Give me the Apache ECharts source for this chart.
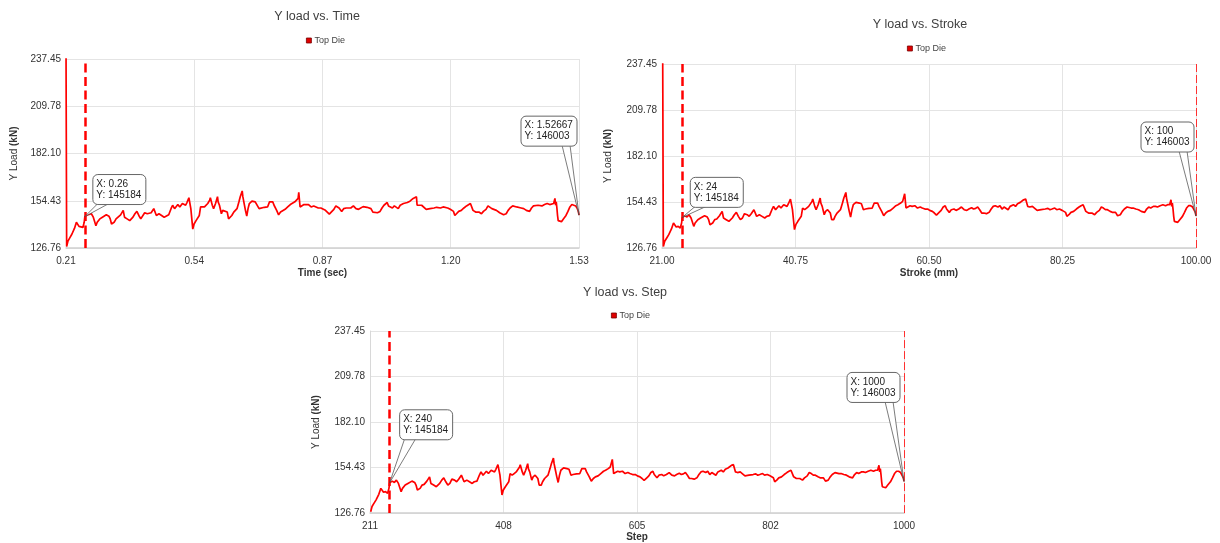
<!DOCTYPE html>
<html><head><meta charset="utf-8">
<script src="https://cdn.jsdelivr.net/npm/echarts@6/dist/echarts.min.js"></script>
<style>html,body{margin:0;padding:0;background:#fff}#c{width:1220px;height:543px}</style>
</head><body><div id="c"></div>
<script>
// ---- data ----
const steps = [
 211,212,214,217,220,224,227,229,231,234,
 237,239,240,244,247,250,253,257,259,263,
 267,269,273,277,279,281,285,288,291,295,
 299,301,305,309,311,314,317,320,323,326,
 329,332,336,339,342,346,348,350,354,358,
 362,365,369,373,375,378,380,383,386,390,
 392,395,397,400,402,403,405,406,408,411,
 413,416,418,421,424,427,429,432,433,436,
 438,441,444,445,447,450,452,455,459,461,
 464,466,469,474,477,479,482,483,485,487,
 489,491,493,497,502,505,508,511,516,521,
 524,526,529,531,535,538,541,544,548,552,
 556,559,563,566,568,569,571,573,577,580,
 584,588,592,595,599,603,606,610,613,616,
 620,623,626,629,631,635,638,642,645,649,
 653,657,661,664,668,671,674,677,680,683,
 686,690,694,697,700,703,705,707,710,713,
 716,718,722,725,727,730,733,736,740,741,
 745,748,750,751,754,758,761,765,767,771,
 773,777,781,784,787,791,794,798,802,804,
 807,809,812,815,819,823,827,830,833,835,
 837,841,843,846,850,853,857,860,863,866,
 869,873,876,878,881,884,888,891,894,898,
 900,904,907,911,915,919,921,924,927,930,
 933,937,940,943,947,951,955,958,961,963,
 964,965,966,967,968,970,973,976,980,983,
 986,989,992,995,997,999,1000
];
const loadKN = [
 245,127.6,130.8,132.8,134.8,138.2,141.8,140.8,139.4,139.8,
 138.8,141.8,145.184,146.2,145.4,146.8,144.8,139.8,141.8,143.8,
 144.8,145.8,146.2,145.4,143.8,140.8,141.8,143.8,144.2,146.2,
 148.8,144.8,143.8,142.8,143.8,144.8,146.8,148.2,145.8,143.8,
 144.8,147.4,146.8,145.8,147.4,149.8,150.2,145.8,146.8,145.8,
 144.8,145.8,146.2,150.2,151.8,149.8,150.8,152.2,150.8,152.8,
 153.8,151.8,153.4,156.2,156.8,149.8,141.8,137.8,140.8,142.8,
 143.8,145.8,150.8,149.8,150.8,151.8,152.8,154.8,156.2,151.8,
 149.8,152.8,156.8,153.8,151.8,146.8,148.8,149.8,147.8,143.8,
 143.8,145.8,147.8,149.8,153.8,156.8,160.2,156.8,152.8,148.8,
 145.4,149.8,152.8,154.2,153.8,153.4,149.8,150.2,150.6,150.8,
 153.8,154.8,153.8,151.8,148.8,146.2,147.8,148.8,149.4,150.8,
 152.2,152.8,153.8,154.8,155.8,159.4,150.8,151.8,152.2,151.8,
 152.2,150.8,151.4,150.8,150.2,150.2,149.4,148.8,147.8,146.6,
 148.2,149.4,151.4,152.2,150.2,148.2,149.8,150.2,149.4,150.2,
 151.4,149.8,149.4,150.2,151.0,150.2,150.6,151.4,149.8,147.8,
 147.8,147.4,148.2,150.2,151.8,152.2,153.4,151.4,152.2,150.2,
 151.4,151.8,149.8,151.8,152.2,152.8,151.8,153.4,154.2,154.8,
 155.8,156.2,156.8,151.8,151.4,151.8,150.8,149.4,150.2,149.8,
 150.8,150.2,150.6,149.8,150.2,150.8,149.8,150.2,149.4,150.2,
 148.2,145.8,146.8,148.2,148.8,150.2,151.4,152.2,152.8,153.4,
 148.8,147.8,146.8,147.8,146.8,148.2,149.4,151.4,150.8,149.8,
 149.8,148.8,148.2,147.4,148.2,146.2,146.8,148.8,150.2,151.4,
 151.8,150.8,150.8,150.2,149.8,148.8,147.8,148.2,150.2,151.4,
 150.8,151.8,151.8,151.4,152.2,152.8,152.2,152.8,152.8,155.8,
 151.8,153.8,150.2,145.8,142.8,141.8,142.2,143.8,145.8,148.2,
 150.8,152.2,152.2,151.4,150.2,148.2,146.003
];
const titles = ['Y load vs. Time', 'Y load vs. Stroke', 'Y load vs. Step'];
const xAxisNames = ['Time (sec)', 'Stroke (mm)', 'Step'];
const seriesName = 'Top Die';
const yTickLabels = ['126.76','154.43','182.10','209.78','237.45'];
const timeTickLabels = ['0.21','0.54','0.87','1.20','1.53'];
const strokeTickLabels = ['21.00','40.75','60.50','80.25','100.00'];
const stepTickLabels = ['211','408','605','802','1000'];
const cursorStep = [240, 1000];
const cursorTime = [0.26, 1.52667];
const cursorStroke = [24, 100];
const cursorLoadN = [145184, 146003];
// unit conversion derived from cursor readouts: time = (step-84)/600 s, stroke = step/10 mm
const toTime = s => (s - 84) / 600;
const toStroke = s => s / 10;

// ---- chart ----
const FONT = '"Liberation Sans", Arial, sans-serif';
const yMin = 126.76, yMax = 237.45;
const xRanges = [[toTime(211), toTime(1000)], [21, 100], [211, 1000]];
const xLabelSets = [timeTickLabels, strokeTickLabels, stepTickLabels];
const grids = [
  {left: 66, top: 59, width: 513, height: 189},
  {left: 662, top: 64, width: 534, height: 184},
  {left: 370, top: 331, width: 534, height: 184}
];
const ticks = (a, b) => [0,1,2,3,4].map(k => a + k * (b - a) / 4);
const labelFor = (a, b, labels) => v => labels[Math.round((v - a) / ((b - a) / 4))] || '';

const chart = echarts.init(document.getElementById('c'), null, {renderer: 'canvas'});
const xData = [
  steps.map((s, i) => [toTime(s), loadKN[i]]),
  steps.map((s, i) => [toStroke(s), loadKN[i]]),
  steps.slice(1).map((s, i) => [s, loadKN[i + 1]])
];
const cursors = [
  [cursorTime[0], cursorTime[1]],
  [cursorStroke[0], cursorStroke[1]],
  [cursorStep[0], cursorStep[1]]
];

const option = {
  animation: false,
  backgroundColor: '#fff',
  textStyle: {fontFamily: FONT},
  title: [
    {text: titles[0], left: 317, top: 10, textAlign: 'center'},
    {text: titles[1], left: 920, top: 18, textAlign: 'center'},
    {text: titles[2], left: 625, top: 286, textAlign: 'center'}
  ].map(t => Object.assign(t, {padding: 0, textStyle: {fontSize: 12.5, fontWeight: 'normal', color: '#404040', fontFamily: FONT}})),
  legend: [
    {left: 306, top: 36},
    {left: 907, top: 44},
    {left: 611, top: 311}
  ].map(l => Object.assign(l, {
    data: [seriesName], padding: 0, icon: 'rect', itemWidth: 5, itemHeight: 5,
    itemStyle: {color: '#e00000', borderColor: '#700', borderWidth: 0.8},
    textStyle: {fontSize: 9, color: '#444', fontFamily: FONT, padding: [0,0,0,-2]}
  })),
  grid: grids,
  xAxis: grids.map((g, i) => {
    const [a, b] = xRanges[i];
    const tv = ticks(a, b);
    return {
      type: 'value', gridIndex: i, min: a, max: b,
      name: xAxisNames[i], nameLocation: 'middle', nameGap: i === 2 ? 18 : 20,
      nameTextStyle: {fontSize: 10, fontWeight: 'bold', color: '#333', fontFamily: FONT},
      axisLine: {show: true, onZero: false, lineStyle: {color: '#d0d0d0', width: 1.5}},
      axisTick: {show: false, customValues: tv},
      axisLabel: {customValues: tv, formatter: labelFor(a, b, xLabelSets[i]), fontSize: 10, color: '#333', margin: 8, fontFamily: FONT},
      splitLine: {show: true, lineStyle: {color: '#e4e4e4', width: 1}}
    };
  }),
  yAxis: grids.map((g, i) => {
    const tv = ticks(yMin, yMax);
    return {
      type: 'value', gridIndex: i, min: yMin, max: yMax,
      name: '{n|Y Load }{b|(kN)}', nameLocation: 'middle', nameGap: i === 0 ? 47 : 49,
      nameRotate: 90,
      nameTextStyle: {fontSize: 10, color: '#333', fontFamily: FONT, rich: {
        n: {fontSize: 10, color: '#333', fontFamily: FONT},
        b: {fontSize: 10, color: '#333', fontWeight: 'bold', fontFamily: FONT}
      }},
      axisLine: {show: true, lineStyle: {color: '#d8d8d8', width: 1}},
      axisTick: {show: false, customValues: tv},
      axisLabel: {customValues: tv, formatter: labelFor(yMin, yMax, yTickLabels), fontSize: 10, color: '#333', margin: 5, fontFamily: FONT},
      splitLine: {show: true, lineStyle: {color: '#e4e4e4', width: 1}}
    };
  }),
  series: grids.map((g, i) => ({
    type: 'line', name: seriesName, xAxisIndex: i, yAxisIndex: i,
    data: xData[i], showSymbol: false, symbol: 'none', clip: true,
    lineStyle: {color: '#ff0000', width: 1.7}, itemStyle: {color: '#e00000'},
    markLine: {
      silent: true, symbol: ['none', 'none'], label: {show: false},
      data: [
        {xAxis: cursors[i][0], lineStyle: {color: '#ff0000', width: 2.5, type: [9, 4.5]}},
        {xAxis: cursors[i][1], lineStyle: {color: '#ff3030', width: 1, type: [8, 3]}}
      ]
    }
  }))
};
chart.setOption(option);

// ---- callouts (cursor readouts) ----
const ctx = document.createElement('canvas').getContext('2d');
ctx.font = '10px ' + FONT;
const callouts = [
  {g: 0, k: 0, side: 'l', dx: 8, dy: -42},
  {g: 0, k: 1, side: 'r', dx: -2, dy: -99},
  {g: 1, k: 0, side: 'l', dx: 8, dy: -40},
  {g: 1, k: 1, side: 'r', dx: -2, dy: -94},
  {g: 2, k: 0, side: 'l', dx: 10, dy: -73},
  {g: 2, k: 1, side: 'r', dx: -4, dy: -109}
];
const elems = [];
callouts.forEach(c => {
  const xv = cursors[c.g][c.k];
  const yv = cursorLoadN[c.k] / 1000;
  const [px, py] = chart.convertToPixel({gridIndex: c.g}, [xv, yv]);
  const lines = ['X: ' + xv, 'Y: ' + cursorLoadN[c.k]];
  const w = Math.ceil(Math.max(...lines.map(t => ctx.measureText(t).width))) + 7;
  const h = 30;
  const bx = c.side === 'l' ? px + c.dx : px + c.dx - w;
  const by = py + c.dy;
  const t0 = c.side === 'l' ? bx + 5 : bx + w - 15;
  const t1 = c.side === 'l' ? bx + 16 : bx + w - 7;
  elems.push({type: 'polygon', z: 100, shape: {points: [[t0, by + h - 1], [t1, by + h - 1], [px, py]]},
    style: {fill: '#fff', stroke: '#444', lineWidth: 0.7}});
  elems.push({type: 'rect', z: 101, shape: {x: bx, y: by, width: w, height: h, r: 5},
    style: {fill: '#fff', stroke: '#666', lineWidth: 1}});
  elems.push({type: 'text', z: 102, x: bx + 3.5, y: by + 4,
    style: {text: lines.join('\n'), font: '10px ' + FONT, fill: '#222', lineHeight: 11}});
});
chart.setOption({graphic: elems});
</script>
</body></html>
